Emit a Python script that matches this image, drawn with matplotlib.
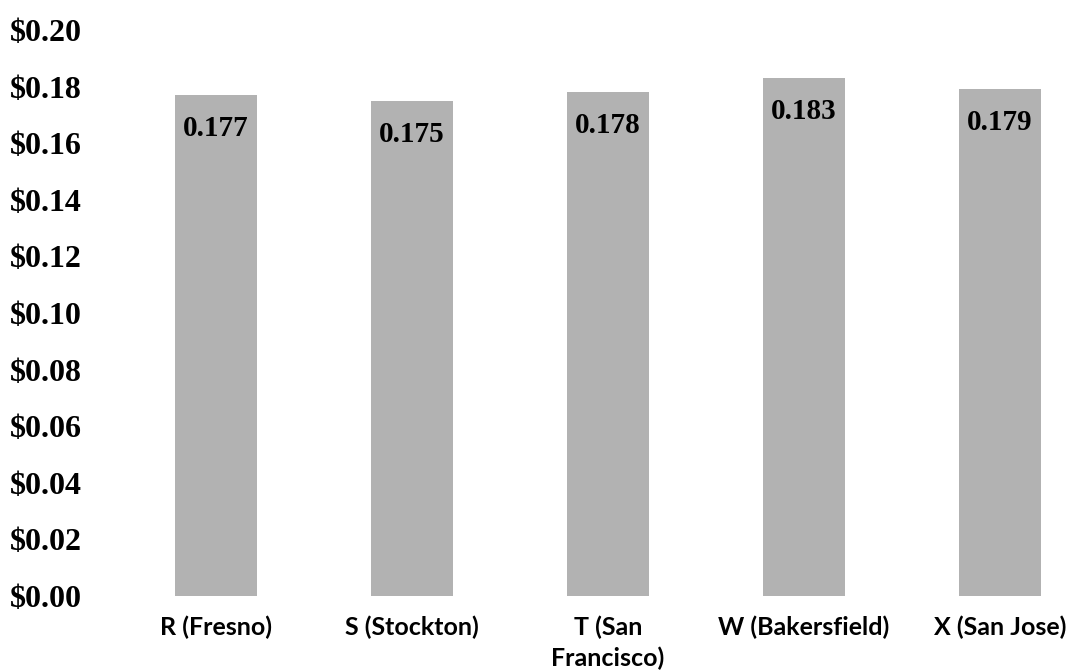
import matplotlib
matplotlib.use('Agg')
import matplotlib.pyplot as plt
from matplotlib.ticker import FuncFormatter

cities = ['R (Fresno)', 'S (Stockton)', 'T (San\nFrancisco)',
          'W (Bakersfield)', 'X (San Jose)']
costs = [0.177, 0.175, 0.178, 0.183, 0.179]
y_ticks = [0.00, 0.02, 0.04, 0.06, 0.08, 0.10, 0.12, 0.14, 0.16, 0.18, 0.20]

SERIF = 'Liberation Serif'
SANS = 'Lato'


def dollars(x, pos):
    ''' y axis as dollar amounts '''
    return f'${x:.2f}'


def main():
    fig = plt.figure(figsize=(10.71, 6.71), dpi=100)
    ax = fig.add_axes([100 / 1071, 75 / 671, 971 / 1071, 566 / 671])

    xs = list(range(len(cities)))
    ax.bar(xs, costs, width=0.42, color='#b2b2b2', edgecolor='none')

    for x, v in zip(xs, costs):
        ax.annotate(f'{v:.3f}', (x, v), xytext=(0, -24),
                    textcoords='offset points', ha='center', va='center',
                    fontsize=21, fontweight='bold', family=SERIF)

    ax.set_xlim(-0.592, 4.362)
    ax.set_ylim(0, 0.2)
    ax.set_yticks(y_ticks)
    ax.yaxis.set_major_formatter(FuncFormatter(dollars))
    ax.set_xticks(xs)
    ax.set_xticklabels(cities, family=SANS, fontweight='bold', fontsize=18,
                       linespacing=1.4, va='top')

    for lbl in ax.get_yticklabels():
        lbl.set_family(SERIF)
        lbl.set_fontweight('bold')
        lbl.set_fontsize(23)
        lbl.set_horizontalalignment('left')

    # pad is in points: 90 px to the left of the axes edge
    ax.tick_params(axis='y', length=0, pad=64.8)
    ax.tick_params(axis='x', length=0, pad=14)
    for s in ax.spines.values():
        s.set_visible(False)

    fig.savefig('out.png', dpi=100)


if __name__ == '__main__':
    main()
